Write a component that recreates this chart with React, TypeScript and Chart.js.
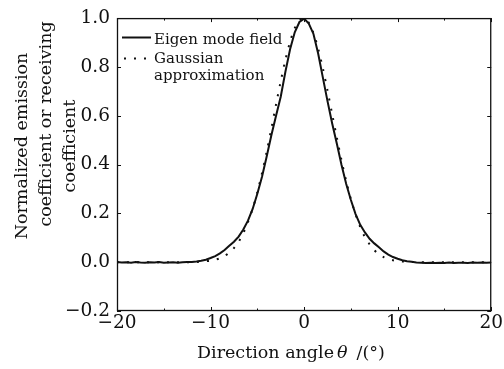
import React, { useEffect, useRef } from 'react';
import { Chart, registerables } from 'chart.js';

Chart.register(...registerables);

// ---------- data ----------
const angles = [
  -20, -19.5, -19, -18.5, -18, -17.5, -17, -16.5, -16, -15.5, -15, -14.5, -14, -13.5, -13, -12.5, -12,
  -11.5, -11, -10.5, -10, -9.5, -9, -8.5, -8, -7.5, -7, -6.5, -6, -5.5, -5, -4.5, -4, -3.5, -3, -2.5, -2,
  -1.5, -1, -0.5, 0, 0.5, 1, 1.5, 2, 2.5, 3, 3.5, 4, 4.5, 5, 5.5, 6, 6.5, 7, 7.5, 8, 8.5, 9, 9.5, 10,
  10.5, 11, 11.5, 12, 12.5, 13, 13.5, 14, 14.5, 15, 15.5, 16, 16.5, 17, 17.5, 18, 18.5, 19, 19.5, 20,
];

const eigenField = [
  0.001, -0.001, 0.0, -0.002, 0.001, -0.001, -0.002, 0.0, -0.001, 0.001, -0.002, -0.001, 0.0, -0.002, 0.0, 0.001, 0.001,
  0.003, 0.006, 0.01, 0.017, 0.025, 0.036, 0.05, 0.067, 0.084, 0.105, 0.134, 0.17, 0.218, 0.28, 0.35, 0.433, 0.52, 0.6, 0.678, 0.78,
  0.872, 0.942, 0.984, 0.998, 0.978, 0.935, 0.855, 0.757, 0.66, 0.568, 0.485, 0.398, 0.32, 0.255, 0.197, 0.153, 0.122, 0.096, 0.077, 0.061, 0.044, 0.031, 0.021, 0.014,
  0.008, 0.004, 0.002, -0.001, -0.002, -0.003, -0.002, -0.003, -0.002, -0.003, -0.001, -0.003, -0.002, -0.002, -0.003, -0.001, -0.002, -0.001, -0.002, -0.001,
];

const gaussianApprox = [
  0, 0, 0, 0, 0, 0, 0, 0, 0, 0, 0, 0, 0, 0, 0, 0, 0,
  0.001, 0.002, 0.004, 0.006, 0.01, 0.016, 0.025, 0.039, 0.058, 0.084, 0.119, 0.164, 0.219, 0.287, 0.365, 0.453, 0.548, 0.646, 0.741, 0.829,
  0.903, 0.959, 0.992, 0.999, 0.981, 0.939, 0.875, 0.795, 0.703, 0.606, 0.51, 0.417, 0.332, 0.258, 0.196, 0.144, 0.103, 0.073, 0.049, 0.033, 0.021, 0.013, 0.008, 0.005,
  0.003, 0.002, 0.001, 0, 0, 0, 0, 0, 0, 0, 0, 0, 0, 0, 0, 0, 0, 0, 0, 0,
];

const xMajorTicks = [-20, -10, 0, 10, 20];
const xMinorTicks = [-15, -5, 5, 15];
const yTicks = [-0.2, 0, 0.2, 0.4, 0.6, 0.8, 1.0];

const seriesNames = ['Eigen mode field', 'Gaussian', 'approximation'];
const yTitleLines = ['Normalized emission', 'coefficient or receiving', 'coefficient'];
const xTitleMain = 'Direction angle';
const xTitleSymbol = 'θ';
const xTitleUnit = '/(°)';

// ---------- styling ----------
const FONT = '"DejaVu Serif", "Liberation Serif", serif';
const INK = '#111';

const fmtSigned = (v: number, digits: number) =>
  (v < -1e-9 ? '\u2212' : '') + Math.abs(v).toFixed(digits);

const overlayPlugin = {
  id: 'overlay',
  afterDraw(chart: any) {
    const { ctx, chartArea: a, scales } = chart;
    const xs = scales.x;
    const ys = scales.y;
    ctx.save();
    ctx.strokeStyle = INK;
    ctx.lineWidth = 1.3;
    ctx.strokeRect(a.left + 0.5, a.top + 0.5, a.right - a.left - 1, a.bottom - a.top - 1);

    // inward ticks
    ctx.lineWidth = 1;
    ctx.beginPath();
    const xt = (v: number, len: number) => {
      const px = Math.round(xs.getPixelForValue(v)) + 0.5;
      ctx.moveTo(px, a.bottom);
      ctx.lineTo(px, a.bottom - len);
      ctx.moveTo(px, a.top);
      ctx.lineTo(px, a.top + len);
    };
    xMajorTicks.forEach((v) => xt(v, 4));
    xMinorTicks.forEach((v) => xt(v, 2.5));
    yTicks.forEach((v) => {
      const py = Math.round(ys.getPixelForValue(v)) + 0.5;
      ctx.moveTo(a.left, py);
      ctx.lineTo(a.left + 4, py);
      ctx.moveTo(a.right, py);
      ctx.lineTo(a.right - 4, py);
    });
    ctx.stroke();

    // legend
    ctx.fillStyle = INK;
    ctx.strokeStyle = INK;
    ctx.lineWidth = 2;
    ctx.beginPath();
    ctx.moveTo(122, 37.5);
    ctx.lineTo(151, 37.5);
    ctx.stroke();
    ctx.setLineDash([2, 8]);
    ctx.beginPath();
    ctx.moveTo(124, 58.5);
    ctx.lineTo(153, 58.5);
    ctx.stroke();
    ctx.setLineDash([]);
    ctx.font = `15px ${FONT}`;
    ctx.textAlign = 'left';
    ctx.textBaseline = 'alphabetic';
    ctx.fillText(seriesNames[0], 154, 44);
    ctx.fillText(seriesNames[1], 154, 62.5);
    ctx.fillText(seriesNames[2], 154, 80);

    // y title (rotated, three lines)
    ctx.font = `17.5px ${FONT}`;
    ctx.textAlign = 'center';
    const yTitlePos = [
      [26.5, 146],
      [51, 124],
      [75, 146],
    ];
    yTitleLines.forEach((t, i) => {
      ctx.save();
      ctx.translate(yTitlePos[i][0], yTitlePos[i][1]);
      ctx.rotate(-Math.PI / 2);
      ctx.fillText(t, 0, 0);
      ctx.restore();
    });

    // x title
    ctx.textAlign = 'left';
    ctx.font = `17.5px ${FONT}`;
    const x0 = 197;
    const base = 358;
    ctx.fillText(xTitleMain, x0, base);
    let cx = x0 + ctx.measureText(xTitleMain).width + 3;
    ctx.font = `italic 17.5px ${FONT}`;
    ctx.fillText(xTitleSymbol, cx, base);
    cx += ctx.measureText(xTitleSymbol).width + 9;
    ctx.font = `17.5px ${FONT}`;
    ctx.fillText(xTitleUnit, cx, base);
    ctx.restore();
  },
};

export default function App() {
  const canvasRef = useRef<HTMLCanvasElement | null>(null);

  useEffect(() => {
    document.body.style.margin = '0';
    const canvas = canvasRef.current;
    if (!canvas) return;
    const chart = new Chart(canvas, {
      type: 'line',
      data: {
        datasets: [
          {
            label: seriesNames[0],
            data: angles.map((a, i) => ({ x: a, y: eigenField[i] })),
            borderColor: INK,
            borderWidth: 2,
            pointRadius: 0,
            tension: 0,
            fill: false,
          },
          {
            label: seriesNames[1] + ' ' + seriesNames[2],
            data: angles.map((a, i) => ({ x: a, y: gaussianApprox[i] })),
            borderColor: INK,
            borderWidth: 2,
            borderDash: [2, 8],
            pointRadius: 0,
            tension: 0.3,
            fill: false,
          },
        ],
      },
      options: {
        animation: false,
        responsive: true,
        maintainAspectRatio: false,
        layout: { padding: { top: 16, right: 12, left: 0, bottom: 0 } },
        plugins: {
          legend: { display: false },
          tooltip: { enabled: false },
        },
        scales: {
          x: {
            type: 'linear',
            min: -20,
            max: 20,
            afterBuildTicks: (s: any) => {
              s.ticks = xMajorTicks.map((v) => ({ value: v }));
            },
            afterFit: (s: any) => {
              s.height = 58;
            },
            grid: { display: false, drawTicks: false },
            border: { display: false },
            ticks: {
              color: INK,
              padding: 1,
              maxRotation: 0,
              autoSkip: false,
              font: { family: FONT, size: 18.5 },
              callback: (v: any) => fmtSigned(Number(v), 0),
            },
          },
          y: {
            type: 'linear',
            min: -0.2,
            max: 1.0,
            afterBuildTicks: (s: any) => {
              s.ticks = yTicks.map((v) => ({ value: v }));
            },
            afterFit: (s: any) => {
              s.width = 117;
            },
            grid: { display: false, drawTicks: false },
            border: { display: false },
            ticks: {
              color: INK,
              padding: 7,
              autoSkip: false,
              font: { family: FONT, size: 18.5 },
              callback: (v: any) => fmtSigned(Number(v), 1),
            },
          },
        },
      },
      plugins: [overlayPlugin],
    } as any);
    return () => chart.destroy();
  }, []);

  return (
    <div style={{ position: 'fixed', left: 0, top: 0, width: 504, height: 369 }}>
      <canvas ref={canvasRef} />
    </div>
  );
}
